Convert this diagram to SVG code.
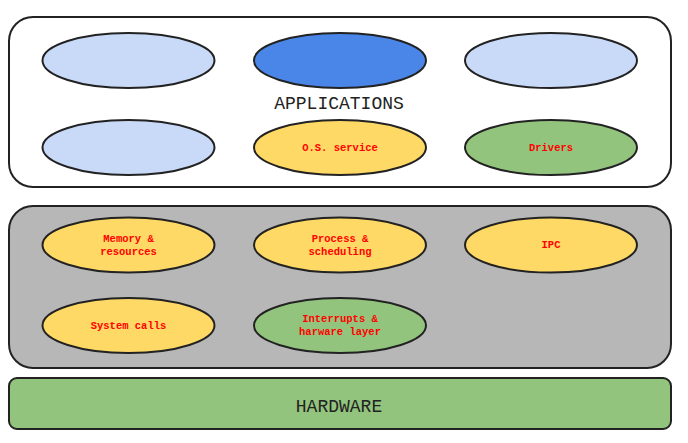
<svg xmlns="http://www.w3.org/2000/svg" width="688" height="443" viewBox="0 0 688 443">
<style>
.box{stroke:#222;stroke-width:2}
.el{stroke:#222;stroke-width:2}
.lb{fill:#c9daf8}.bl{fill:#4a86e8}.ye{fill:#ffd966}.gr{fill:#93c47d}
.big{font-family:"Liberation Mono",monospace;font-size:18px;fill:#222;text-anchor:middle}
.sm{font-family:"Liberation Mono",monospace;font-size:10.5px;font-weight:bold;fill:#ff0000;text-anchor:middle}
</style>
<rect width="688" height="443" fill="#fff"/>
<g id="applications">
<rect class="box" x="9" y="17" width="662" height="170" rx="24" fill="#fff"/>
<text class="big" x="339" y="109">APPLICATIONS</text>
</g>
<g id="app1"><ellipse class="el lb" cx="128.5" cy="60.5" rx="86" ry="27.5"/></g>
<g id="app2"><ellipse class="el bl" cx="340" cy="60.5" rx="86" ry="27.5"/></g>
<g id="app3"><ellipse class="el lb" cx="551" cy="60.5" rx="86" ry="27.5"/></g>
<g id="app4"><ellipse class="el lb" cx="128.5" cy="147.5" rx="86" ry="27.5"/></g>
<g id="os-service"><ellipse class="el ye" cx="340" cy="147.5" rx="86" ry="27.5"/><text class="sm" x="340" y="151">O.S. service</text></g>
<g id="drivers"><ellipse class="el gr" cx="551" cy="147.5" rx="86" ry="27.5"/><text class="sm" x="551" y="151">Drivers</text></g>
<g id="kernel">
<rect class="box" x="9" y="206" width="662" height="162" rx="24" fill="#b7b7b7"/>
</g>
<g id="memory"><ellipse class="el ye" cx="128.5" cy="245" rx="86" ry="27.5"/><text class="sm" x="128.5" y="242">Memory &amp;</text><text class="sm" x="128.5" y="255">resources</text></g>
<g id="process"><ellipse class="el ye" cx="340" cy="245" rx="86" ry="27.5"/><text class="sm" x="340" y="242">Process &amp;</text><text class="sm" x="340" y="255">scheduling</text></g>
<g id="ipc"><ellipse class="el ye" cx="551" cy="245" rx="86" ry="27.5"/><text class="sm" x="551" y="248">IPC</text></g>
<g id="syscalls"><ellipse class="el ye" cx="128.5" cy="325.5" rx="86" ry="27.5"/><text class="sm" x="128.5" y="329">System calls</text></g>
<g id="interrupts"><ellipse class="el gr" cx="340" cy="325.5" rx="86" ry="27.5"/><text class="sm" x="340" y="322">Interrupts &amp;</text><text class="sm" x="340" y="335">harware layer</text></g>
<g id="hardware">
<rect class="box" x="9" y="378" width="662" height="51" rx="8" fill="#93c47d"/>
<text class="big" x="339" y="412">HARDWARE</text>
</g>
<g id="connectors"></g>
</svg>
